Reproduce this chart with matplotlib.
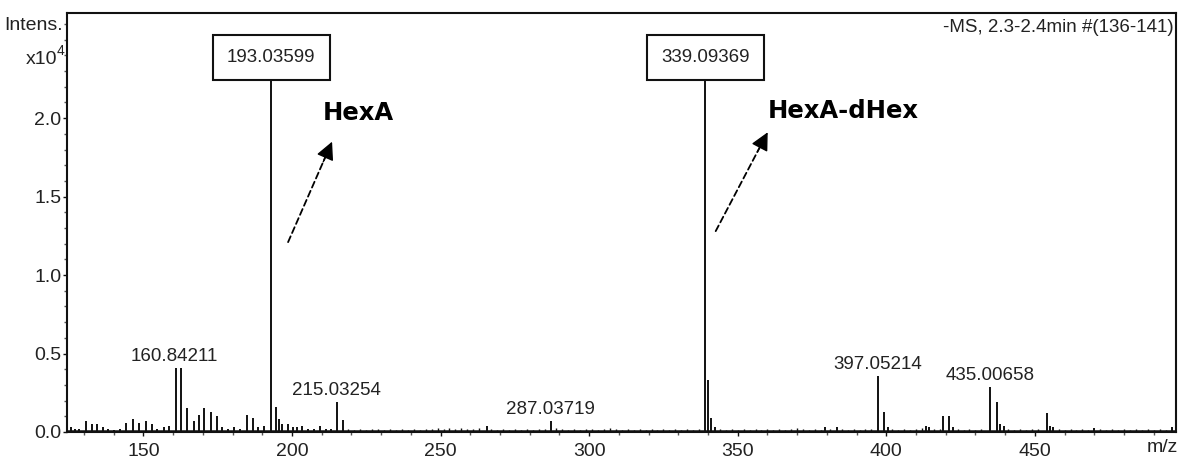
import matplotlib
matplotlib.use("Agg")
import matplotlib.pyplot as plt

# ---------------- data (m/z, intensity x10^4) ----------------
peak_mz = [125.5, 127.0, 128.5, 130.7, 132.6, 134.4, 136.5, 138.0, 140.0, 142.0,
           144.3, 146.4, 148.6, 150.9, 152.8, 154.5, 156.8, 158.5,
           160.84211, 162.8, 164.7, 166.9, 168.6, 170.5, 172.7, 174.9, 176.5,
           178.5, 180.5, 182.5, 184.9, 186.9, 188.5, 190.5,
           193.03599, 194.6, 195.5, 196.6, 198.8, 200.5, 201.8, 203.3, 205.5,
           207.3, 209.4, 211.5, 213.2, 215.03254, 217.2,
           265.6, 287.03719,
           339.09369, 340.1, 341.0, 342.5,
           379.5, 383.4,
           397.05214, 399.1, 400.5, 413.3, 414.5, 419.2, 421.2, 422.5,
           435.00658, 437.1, 438.2, 439.5, 454.0, 455.0, 456.0, 470.0, 496.1]
peak_int = [0.03, 0.02, 0.02, 0.07, 0.05, 0.05, 0.03, 0.02, 0.015, 0.02,
            0.06, 0.08, 0.06, 0.07, 0.05, 0.02, 0.03, 0.04,
            0.41, 0.41, 0.15, 0.07, 0.11, 0.15, 0.13, 0.10, 0.03,
            0.02, 0.03, 0.02, 0.11, 0.09, 0.03, 0.04,
            2.30, 0.16, 0.08, 0.05, 0.05, 0.03, 0.03, 0.04, 0.02,
            0.02, 0.04, 0.02, 0.02, 0.19, 0.075,
            0.04, 0.07,
            2.30, 0.33, 0.09, 0.03,
            0.03, 0.03,
            0.36, 0.13, 0.03, 0.04, 0.03, 0.10, 0.10, 0.03,
            0.285, 0.19, 0.05, 0.04, 0.12, 0.04, 0.03, 0.025, 0.03]

noise_mz = [219, 221, 223, 225, 227, 229, 231, 233, 235, 237, 239, 241, 243,
            245, 247, 249, 251, 253, 255, 257, 259, 261, 263, 267, 269, 271,
            273, 275, 277, 279, 281, 283, 285, 289, 291, 293, 295, 297, 299,
            301, 303, 305, 307, 309, 311, 313, 315, 317, 319, 321, 323, 325,
            327, 329, 331, 333, 335, 337, 344, 346, 348, 350, 352, 354, 356,
            358, 360, 362, 364, 366, 368, 370, 372, 374, 376, 378, 381, 385,
            387, 389, 391, 393, 395, 402, 404, 406, 408, 410, 412, 416, 418,
            424, 426, 428, 430, 432, 441, 443, 445, 447, 449, 451, 458, 460,
            462, 464, 466, 468, 472, 474, 476, 478, 480, 482, 484, 486, 488,
            490, 492, 494]
noise_int = [0.02, 0.015, 0.02, 0.015, 0.02, 0.02, 0.015, 0.02, 0.015, 0.02,
             0.015, 0.02, 0.015, 0.02, 0.02, 0.025, 0.02, 0.025, 0.02, 0.025,
             0.02, 0.02, 0.025, 0.02, 0.015, 0.02, 0.015, 0.02, 0.015, 0.02,
             0.015, 0.02, 0.02, 0.025, 0.02, 0.015, 0.02, 0.015, 0.02, 0.02,
             0.015, 0.02, 0.025, 0.02, 0.015, 0.02, 0.015, 0.02, 0.015, 0.02,
             0.015, 0.02, 0.015, 0.02, 0.015, 0.02, 0.015, 0.02, 0.02, 0.015,
             0.02, 0.015, 0.02, 0.015, 0.02, 0.015, 0.02, 0.015, 0.02, 0.015,
             0.02, 0.025, 0.02, 0.015, 0.02, 0.015, 0.02, 0.02, 0.015, 0.02,
             0.015, 0.02, 0.02, 0.02, 0.015, 0.02, 0.015, 0.02, 0.025, 0.02,
             0.02, 0.02, 0.015, 0.02, 0.015, 0.02, 0.02, 0.015, 0.02, 0.015,
             0.02, 0.02, 0.02, 0.015, 0.02, 0.015, 0.02, 0.015, 0.02, 0.015,
             0.02, 0.015, 0.02, 0.015, 0.02, 0.015, 0.02, 0.015, 0.02, 0.015]

plain_labels = ["160.84211", "215.03254", "287.03719", "397.05214", "435.00658"]
plain_label_mz = [160.3, 215.03254, 287.03719, 397.05214, 435.00658]
plain_label_int = [0.41, 0.19, 0.07, 0.36, 0.285]

boxed_labels = ["193.03599", "339.09369"]
boxed_label_mz = [193.03599, 339.09369]

x_ticks = [150, 200, 250, 300, 350, 400, 450]
y_ticks = [0.0, 0.5, 1.0, 1.5, 2.0]

# ---------------- figure ----------------
plt.rcParams["font.family"] = ["Liberation Sans", "DejaVu Sans"]

fig = plt.figure(figsize=(11.81, 4.59), dpi=100)
ax = fig.add_axes([67 / 1181, 1 - 432 / 459, (1176 - 67) / 1181, (432 - 13) / 459])

ax.set_xlim(124.3, 497.5)
ax.set_ylim(0.0, 2.67)

# baseline
ax.plot([124.3, 497.5], [0.008, 0.008], color="#111111", lw=1.8, zorder=2)
ax.vlines(noise_mz, 0, noise_int, color="#111111", lw=1.0, zorder=2)
ax.vlines(peak_mz, 0, peak_int, color="#111111", lw=1.4, zorder=3)

for lab, mz, h in zip(plain_labels, plain_label_mz, plain_label_int):
    ax.annotate(lab, xy=(mz, h), xytext=(0, 2), textcoords="offset points",
                ha="center", va="bottom", fontsize=13.5, color="#222222")

for lab, mz in zip(boxed_labels, boxed_label_mz):
    ax.text(mz, 2.385, lab, ha="center", va="center", fontsize=13.5, color="#222222",
            zorder=5,
            bbox=dict(boxstyle="square,pad=0.75", fc="white", ec="#111111", lw=1.5))

# annotations
ax.text(210.4, 2.034, "HexA", fontsize=17.5, fontweight="bold",
        family="DejaVu Sans", ha="left", va="center")
ax.text(360.2, 2.047, "HexA-dHex", fontsize=17.5, fontweight="bold",
        family="DejaVu Sans", ha="left", va="center")
for (x0, y0, x1, y1) in [(198.7, 1.21, 213.5, 1.85), (342.6, 1.28, 360.1, 1.91)]:
    # dashed shaft
    ax.annotate("", xy=(x1, y1), xytext=(x0, y0),
                arrowprops=dict(arrowstyle="-", linestyle=(0, (3.5, 2)),
                                lw=1.3, color="black", shrinkA=0, shrinkB=8))
    # solid filled head
    ax.annotate("", xy=(x1, y1), xytext=(x0 + 0.8 * (x1 - x0), y0 + 0.8 * (y1 - y0)),
                arrowprops=dict(arrowstyle="-|>,head_length=1.1,head_width=0.55",
                                lw=1.0, color="black", shrinkA=0, shrinkB=0))

ax.text(0.9975, 0.985, "-MS, 2.3-2.4min #(136-141)", transform=ax.transAxes,
        ha="right", va="top", fontsize=13.5, color="#222222")

# axes styling
for s in ax.spines.values():
    s.set_linewidth(1.5)
    s.set_color("#111111")
ax.set_xticks(x_ticks)
ax.set_xticks(range(130, 500, 10), minor=True)
ax.set_yticks(y_ticks)
ax.set_yticks([v / 10 for v in range(0, 27)], minor=True)
ax.set_yticklabels([f"{v:.1f}" for v in y_ticks])
ax.tick_params(axis="both", which="major", direction="out", length=3, width=1,
               labelsize=14, colors="#111111", labelcolor="#222222")
ax.tick_params(axis="x", which="major", pad=5)
ax.tick_params(axis="y", which="major", pad=1)
ax.tick_params(axis="both", which="minor", direction="out", length=2, width=1,
               colors="#555555")

fig.text(63 / 1181, 1 - 25 / 459, "Intens.", ha="right", va="center",
         fontsize=14, color="#222222")
fig.text(57 / 1181, 1 - 59 / 459, "x10", ha="right", va="center",
         fontsize=14, color="#222222")
fig.text(57 / 1181, 1 - 51 / 459, "4", ha="left", va="center",
         fontsize=10, color="#222222")
fig.text(1178 / 1181, 1 - 448 / 459, "m/z", ha="right", va="center",
         fontsize=14, color="#222222")

fig.savefig("out.png", dpi=100)
